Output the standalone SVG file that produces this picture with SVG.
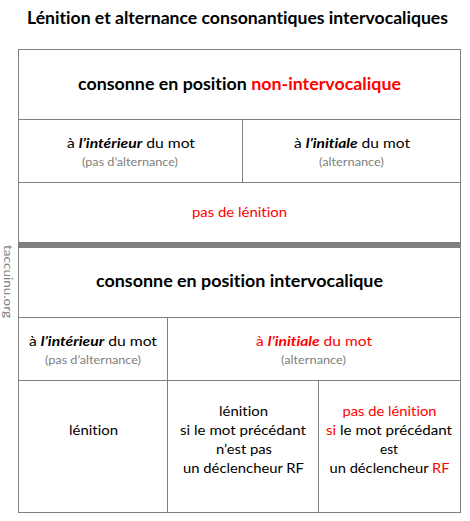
<svg xmlns="http://www.w3.org/2000/svg" width="470" height="521" viewBox="0 0 470 521">
<style>
text{font-family:Lato,"Open Sans","Liberation Sans",sans-serif;text-anchor:middle;fill:#000;font-variant-ligatures:none;font-feature-settings:"liga" 0,"clig" 0,"dlig" 0}
.t{font-size:16.5px;font-weight:bold}
.h{font-size:16.5px;font-weight:bold}
.b{font-size:13.5px}
.s{font-size:11px;fill:#808080}
.r{fill:#ff0000}
.bi{font-weight:bold;font-style:italic}
.g{stroke:#808080;stroke-width:1;fill:none}
.wm{font-size:11px;fill:#808080;text-anchor:start}
</style>
<rect width="470" height="521" fill="#fff"/>
<g id="title"><text class="t" x="237.5" y="24" textLength="421" lengthAdjust="spacingAndGlyphs">Lénition et alternance consonantiques intervocaliques</text></g>
<g id="grid">
<rect class="g" x="18.5" y="49.5" width="442" height="463"/>
<line class="g" x1="18.5" y1="119.5" x2="460.5" y2="119.5"/>
<line class="g" x1="242.5" y1="119.5" x2="242.5" y2="182.5"/>
<line class="g" x1="18.5" y1="182.5" x2="460.5" y2="182.5"/>
<rect x="18" y="242" width="442" height="6" fill="#808080"/>
<line class="g" x1="18.5" y1="317.5" x2="460.5" y2="317.5"/>
<line class="g" x1="167.5" y1="317.5" x2="167.5" y2="512.5"/>
<line class="g" x1="18.5" y1="380.5" x2="460.5" y2="380.5"/>
<line class="g" x1="318.5" y1="380.5" x2="318.5" y2="512.5"/>
</g>
<g id="nonintervoc">
<text class="h" x="239.5" y="90" textLength="323" lengthAdjust="spacingAndGlyphs">consonne en position <tspan class="r">non-intervocalique</tspan></text>
</g>
<g id="ni-interieur">
<text class="b" x="131" y="148" textLength="128" lengthAdjust="spacingAndGlyphs">à <tspan class="bi">l’intérieur</tspan> du mot</text>
<text class="s" x="130" y="166" textLength="96" lengthAdjust="spacingAndGlyphs">(pas d’alternance)</text>
</g>
<g id="ni-initiale">
<text class="b" x="352" y="148" textLength="116" lengthAdjust="spacingAndGlyphs">à <tspan class="bi">l’initiale</tspan> du mot</text>
<text class="s" x="351.5" y="166" textLength="65" lengthAdjust="spacingAndGlyphs">(alternance)</text>
</g>
<g id="ni-result">
<text class="b r" x="239.5" y="217" textLength="95" lengthAdjust="spacingAndGlyphs">pas de lénition</text>
</g>
<g id="intervoc">
<text class="h" x="239.5" y="287" textLength="287" lengthAdjust="spacingAndGlyphs">consonne en position intervocalique</text>
</g>
<g id="i-interieur">
<text class="b" x="93" y="346" textLength="128" lengthAdjust="spacingAndGlyphs">à <tspan class="bi">l’intérieur</tspan> du mot</text>
<text class="s" x="93" y="364" textLength="96" lengthAdjust="spacingAndGlyphs">(pas d’alternance)</text>
</g>
<g id="i-initiale">
<text class="b r" x="314" y="346" textLength="116" lengthAdjust="spacingAndGlyphs">à <tspan class="bi">l’initiale</tspan> du mot</text>
<text class="s" x="313.5" y="364" textLength="65" lengthAdjust="spacingAndGlyphs">(alternance)</text>
</g>
<g id="r-interieur">
<text class="b" x="93.5" y="435" textLength="49" lengthAdjust="spacingAndGlyphs">lénition</text>
</g>
<g id="r-initiale-non">
<text class="b" x="243.5" y="416" textLength="49" lengthAdjust="spacingAndGlyphs">lénition</text>
<text class="b" x="243" y="435" textLength="126" lengthAdjust="spacingAndGlyphs">si le mot précédant</text>
<text class="b" x="244" y="454" textLength="56" lengthAdjust="spacingAndGlyphs">n’est pas</text>
<text class="b" x="243.5" y="473" textLength="121" lengthAdjust="spacingAndGlyphs">un déclencheur RF</text>
</g>
<g id="r-initiale-rf">
<text class="b r" x="389.5" y="416" textLength="94" lengthAdjust="spacingAndGlyphs">pas de lénition</text>
<text class="b" x="389" y="435" textLength="126" lengthAdjust="spacingAndGlyphs"><tspan class="r">si</tspan> le mot précédant</text>
<text class="b" x="389" y="454" textLength="18" lengthAdjust="spacingAndGlyphs">est</text>
<text class="b" x="389.5" y="473" textLength="120" lengthAdjust="spacingAndGlyphs">un déclencheur <tspan class="r">RF</tspan></text>
</g>
<g id="watermark">
<text class="wm" transform="translate(4,245) rotate(90)" textLength="73" lengthAdjust="spacingAndGlyphs">taccuinu.org</text>
</g>
</svg>
